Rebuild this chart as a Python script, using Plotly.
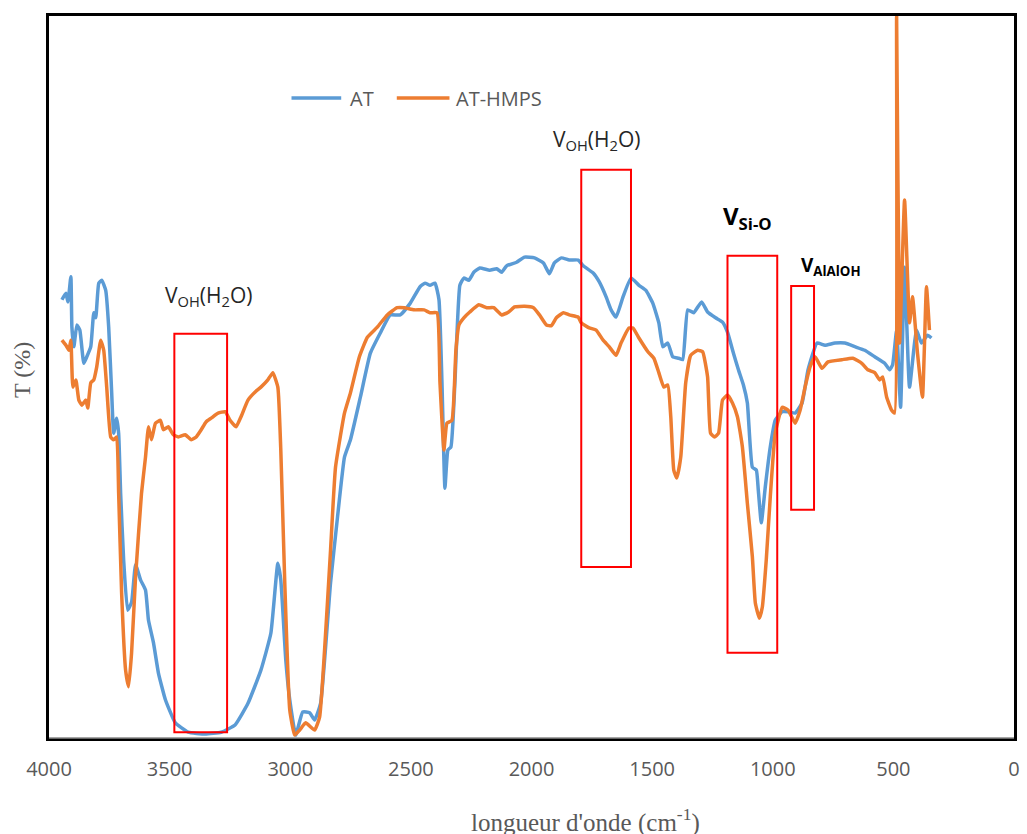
import plotly.graph_objects as go

# AT series (wavenumber cm-1, transmittance, arbitrary %)
wn_at = [3946.4, 3929.9, 3921.6, 3909.3, 3905.1, 3896.9, 3884.5, 3872.2, 3855.7, 3843.3,
         3826.8, 3814.4, 3806.2, 3793.8, 3781.4, 3764.9, 3752.6, 3740.2, 3731.9, 3719.6,
         3711.3, 3703.1, 3690.7, 3674.2, 3657.7, 3641.2, 3620.6, 3600.0, 3587.6, 3567.0,
         3546.4, 3517.5, 3476.3, 3422.7, 3352.6, 3286.6, 3228.9, 3175.2, 3121.6, 3080.4,
         3051.5, 3039.2, 3018.5, 3002.1, 2977.3, 2948.4, 2919.6, 2899.0, 2874.2, 2833.0,
         2804.1, 2775.2, 2750.5, 2709.3, 2668.0, 2626.8, 2585.6, 2544.3, 2503.1, 2461.9,
         2441.2, 2420.6, 2400.0, 2383.5, 2371.1, 2358.8, 2346.4, 2334.0, 2317.5, 2296.9,
         2280.4, 2259.8, 2239.2, 2214.4, 2173.2, 2144.3, 2123.7, 2103.1, 2061.9, 2028.9,
         1987.6, 1950.5, 1925.8, 1905.2, 1876.3, 1843.3, 1806.2, 1785.6, 1744.3, 1719.6,
         1690.7, 1670.1, 1649.5, 1620.6, 1587.6, 1554.6, 1525.8, 1496.9, 1472.2, 1455.7,
         1435.0, 1414.4, 1389.7, 1373.2, 1352.6, 1327.8, 1294.8, 1270.1, 1237.1, 1208.2,
         1187.6, 1162.9, 1142.3, 1121.6, 1105.2, 1084.5, 1068.0, 1059.8, 1047.4, 1030.9,
         1010.3, 989.7, 960.8, 936.1, 907.2, 878.4, 853.6, 816.5, 783.5, 742.3,
         701.0, 659.8, 618.6, 577.3, 536.1, 515.5, 503.1, 486.6, 470.1, 453.6,
         433.0, 404.1, 383.5, 358.8, 342.3]
t_at = [60.7, 61.6, 60.4, 63.9, 56.9, 54.2, 57.2, 56.5, 51.9, 52.8,
        54.2, 58.9, 58.2, 63.0, 63.4, 62.0, 56.9, 47.8, 42.2, 44.3,
        42.2, 33.9, 24.7, 17.7, 18.8, 24.0, 21.9, 20.5, 16.3, 13.2,
        9.0, 5.3, 2.1, 0.8, 0.55, 0.8, 1.8, 4.8, 9.4, 14.5,
        24.2, 21.9, 10.8, 5.3, 0.4, 3.6, 3.5, 2.5, 4.8, 21.5,
        30.6, 38.9, 41.3, 47.2, 53.3, 56.1, 58.6, 58.6, 60.2, 62.5,
        63.0, 62.7, 63.0, 60.7, 49.2, 34.6, 39.9, 40.3, 49.2, 62.7,
        63.7, 63.4, 64.5, 65.1, 64.8, 65.0, 64.5, 65.4, 65.9, 66.6,
        66.5, 65.8, 64.3, 65.8, 66.5, 66.2, 66.2, 65.4, 64.4, 63.2,
        61.1, 59.3, 58.3, 61.1, 63.7, 62.7, 62.0, 60.2, 57.5, 54.2,
        54.7, 52.8, 52.6, 52.4, 59.3, 58.9, 60.4, 59.0, 58.2, 57.6,
        56.2, 53.3, 51.0, 48.9, 46.4, 37.5, 37.1, 34.3, 29.8, 34.8,
        40.3, 44.0, 45.2, 45.2, 45.0, 46.4, 51.0, 54.7, 54.4, 54.7,
        54.7, 54.2, 53.7, 52.8, 51.9, 51.0, 51.7, 56.5, 45.8, 65.2,
        48.6, 56.5, 54.7, 55.8, 55.4]

# AT-HMPS series
wn_hmps = [3946.4, 3929.9, 3917.5, 3909.3, 3901.0, 3888.6, 3876.3, 3863.9, 3847.4, 3839.2,
           3826.8, 3814.4, 3802.1, 3785.6, 3773.2, 3760.8, 3744.3, 3731.9, 3719.6, 3711.3,
           3699.0, 3682.5, 3670.1, 3657.7, 3641.2, 3616.5, 3600.0, 3587.6, 3575.3, 3558.8,
           3538.1, 3525.8, 3505.1, 3484.5, 3463.9, 3435.1, 3410.3, 3389.7, 3369.1, 3348.4,
           3327.8, 3299.0, 3270.1, 3249.5, 3224.7, 3204.1, 3175.2, 3146.4, 3121.6, 3092.8,
           3072.2, 3051.5, 3039.2, 3022.7, 3002.1, 2981.4, 2960.8, 2936.1, 2899.0, 2878.3,
           2857.7, 2833.0, 2812.4, 2775.2, 2750.5, 2713.4, 2680.4, 2639.2, 2597.9, 2556.7,
           2527.8, 2486.6, 2445.4, 2420.6, 2391.7, 2379.4, 2362.9, 2350.5, 2329.9, 2313.4,
           2301.0, 2280.4, 2255.7, 2218.6, 2185.6, 2156.7, 2123.7, 2094.8, 2070.1, 2028.9,
           1991.7, 1967.0, 1938.1, 1917.5, 1896.9, 1868.0, 1843.3, 1806.2, 1793.8, 1760.8,
           1732.0, 1703.1, 1678.3, 1649.5, 1628.9, 1595.9, 1579.4, 1554.6, 1517.5, 1492.8,
           1472.2, 1451.5, 1435.0, 1422.7, 1410.3, 1397.9, 1381.4, 1360.8, 1340.2, 1311.3,
           1290.7, 1270.1, 1257.7, 1241.2, 1224.7, 1208.2, 1187.6, 1167.0, 1146.4, 1125.8,
           1105.2, 1084.5, 1072.2, 1055.7, 1043.3, 1026.8, 1010.3, 989.7, 960.8, 936.1,
           907.2, 886.6, 866.0, 845.4, 824.7, 795.9, 771.1, 713.4, 668.0, 630.9,
           606.2, 577.3, 556.7, 544.3, 527.8, 507.2, 494.8, 486.6, 474.2, 453.6,
           433.0, 420.6, 400.0, 379.4, 362.9, 350.5]
t_hmps = [55.1, 54.4, 53.7, 55.1, 48.6, 49.6, 46.8, 46.1, 46.8, 45.7,
          49.2, 49.6, 51.4, 55.1, 53.7, 48.6, 41.7, 41.3, 41.7, 33.9,
          20.1, 9.4, 7.1, 11.8, 22.3, 33.9, 38.9, 43.1, 41.3, 43.6,
          44.0, 42.7, 43.1, 42.0, 41.7, 42.0, 41.3, 41.7, 42.7, 43.8,
          44.3, 45.0, 45.2, 44.0, 43.1, 44.5, 46.8, 47.9, 48.6, 49.6,
          50.6, 48.6, 39.9, 21.5, 3.9, 0.4, 1.1, 2.1, 1.1, 2.9,
          12.2, 26.0, 37.5, 45.0, 47.8, 52.8, 55.5, 56.9, 58.6, 59.6,
          59.6, 59.3, 59.3, 58.9, 58.9, 49.2, 39.9, 43.6, 44.0, 53.7,
          57.2, 58.2, 59.0, 60.0, 59.6, 59.6, 58.6, 59.0, 59.7, 59.8,
          59.6, 58.6, 57.2, 57.1, 58.2, 58.9, 58.6, 58.3, 57.5, 56.8,
          56.5, 55.1, 54.2, 53.0, 54.7, 56.8, 56.8, 55.4, 53.5, 52.6,
          50.6, 48.6, 48.9, 44.5, 37.1, 36.0, 38.9, 49.2, 53.0, 53.7,
          53.5, 50.0, 42.2, 41.7, 42.2, 46.8, 47.5, 46.4, 44.5, 40.3,
          32.5, 25.1, 18.7, 16.6, 18.1, 24.7, 33.4, 42.2, 45.8, 45.4,
          43.6, 45.4, 48.6, 51.4, 52.8, 51.2, 52.1, 52.4, 52.6, 51.9,
          51.0, 50.6, 49.6, 50.0, 47.2, 45.4, 45.0, 99.9, 54.7, 74.5,
          57.5, 61.1, 53.3, 47.2, 62.5, 56.5]

series_names = ["AT", "AT-HMPS"]
x_ticks = [4000, 3500, 3000, 2500, 2000, 1500, 1000, 500, 0]

# band boxes: (wn_left, wn_right, T_bottom, T_top)
boxes = [(3480.4, 3261.8, 0.8, 56.0),
         (1793.8, 1587.6, 23.7, 78.7),
         (1187.6, 981.4, 11.8, 66.8),
         (923.7, 828.9, 31.6, 62.6)]

BLUE = "#5B9BD5"
ORANGE = "#ED7D31"
COLORS = [BLUE, ORANGE]

fig = go.Figure()
fig.add_trace(go.Scatter(x=wn_at, y=t_at, mode="lines", name=series_names[0],
                         line=dict(color=BLUE, width=3.5, shape="spline", smoothing=0.4)))
fig.add_trace(go.Scatter(x=wn_hmps, y=t_hmps, mode="lines", name=series_names[1],
                         line=dict(color=ORANGE, width=3.5, shape="spline", smoothing=0.4)))

for x0, x1, y0, y1 in boxes:
    fig.add_shape(type="rect", xref="x", yref="y", x0=x0, x1=x1, y0=y0, y1=y1,
                  line=dict(color="#FF0000", width=2), fillcolor="rgba(0,0,0,0)")

# legend drawn manually (line samples + labels), paper coordinates
legend_lines = [(0.2513, 0.3028), (0.3604, 0.4150)]
legend_text_x = [0.310, 0.4202]
legend_y = 0.8864
for (lx0, lx1), c in zip(legend_lines, COLORS):
    fig.add_shape(type="line", xref="paper", yref="paper", x0=lx0, x1=lx1,
                  y0=legend_y, y1=legend_y, line=dict(color=c, width=3.5))

ann_font = dict(family="Open Sans", color="#262626")
annotations = [
    dict(x=0.1658, y=0.612, text="V<sub>OH</sub>(H<sub>2</sub>O)", font=dict(size=21, **ann_font)),
    dict(x=0.5675, y=0.828, text="V<sub>OH</sub>(H<sub>2</sub>O)", font=dict(size=21, **ann_font)),
    dict(x=0.724, y=0.7216, text="<b>V<sub>Si-O</sub></b>", font=dict(size=24, family="Open Sans", color="#000000")),
    dict(x=0.8105, y=0.6537, text="<b>V<sub>AlAlOH</sub></b>", font=dict(size=19, family="Open Sans", color="#000000")),
    dict(x=0.556, y=-0.114, text="longueur d'onde (cm<sup>-1</sup>)",
         font=dict(size=25, family="Liberation Serif", color="#595959")),
    dict(x=-0.0278, y=0.51, text="T (%)", textangle=-90,
         font=dict(size=24, family="Liberation Serif", color="#595959")),
]
for a in annotations:
    a.update(xanchor="center")
for name, tx in zip(series_names, legend_text_x):
    annotations.append(dict(x=tx, y=legend_y, text=name, xanchor="left",
                            font=dict(size=20, family="Open Sans", color="#595959")))
for a in annotations:
    a.update(xref="paper", yref="paper", showarrow=False, yanchor="middle")

fig.update_layout(
    width=1027, height=834,
    margin=dict(l=49, r=7, t=16, b=96),
    plot_bgcolor="white", paper_bgcolor="white",
    annotations=annotations,
    showlegend=False,
    xaxis=dict(range=[4000, 0], tickvals=x_ticks, ticktext=[str(v) for v in x_ticks],
               showgrid=False, zeroline=False, showline=True, linecolor="black",
               linewidth=3, mirror=True, ticks="outside", ticklen=0,
               ticklabelstandoff=11, ticklabeloverflow="allow",
               tickfont=dict(family="Open Sans", size=20, color="#595959")),
    yaxis=dict(range=[0, 100], showgrid=False, zeroline=False, showticklabels=False,
               showline=True, linecolor="black", linewidth=3, mirror=True),
)
fig.add_shape(type="line", xref="paper", yref="paper", x0=0, x1=1, y0=0, y1=0,
              line=dict(color="#888888", width=1.5))

fig.write_html("out.html", config={"displayModeBar": False},
               post_script="document.body.style.margin='0';document.body.style.overflow='hidden';")
